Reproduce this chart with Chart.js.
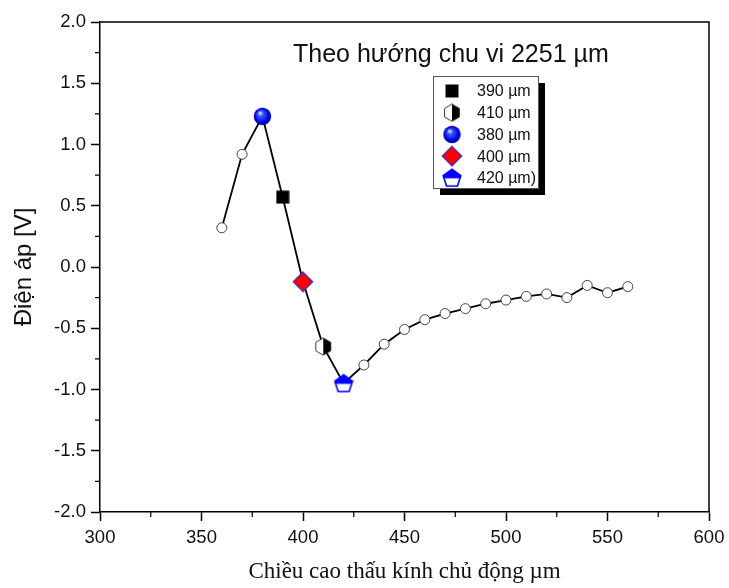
<!DOCTYPE html>
<html>
<head>
<meta charset="utf-8">
<script src="https://cdn.jsdelivr.net/npm/chart.js@4/dist/chart.umd.min.js"></script>
<style>
  html, body { margin: 0; padding: 0; background: #fff; }
  #wrap { width: 729px; height: 588px; }
</style>
</head>
<body>
<div id="wrap"><canvas id="myChart" width="729" height="588"></canvas></div>
<script>
// data
const heights = [360, 370, 380, 390, 400, 410, 420, 430, 440, 450, 460, 470, 480, 490, 500, 510, 520, 530, 540, 550, 560];
const voltages = [0.32, 0.92, 1.23, 0.57, -0.12, -0.65, -0.95, -0.80, -0.63, -0.51, -0.43, -0.38, -0.34, -0.30, -0.27, -0.24, -0.22, -0.25, -0.15, -0.21, -0.16];
const legendLabels = ["390 µm", "410 µm", "380 µm", "400 µm", "420 µm)"];
const legendHeights = [390, 410, 380, 400, 420];
const chartTitle = "Theo hướng chu vi 2251 µm";
const xTitle = "Chiều cao thấu kính chủ động µm";
const yTitle = "Điện áp [V]";

// which marker each highlighted height gets
const markerFor = { 380: "sphere", 390: "square", 400: "diamond", 410: "hexagon", 420: "pentagon" };

Chart.defaults.font.family = "'Liberation Sans', Arial, sans-serif";
Chart.defaults.color = "#111";

function makeCanvas(w, h, draw) {
  const c = document.createElement("canvas");
  c.width = w; c.height = h;
  draw(c.getContext("2d"), w, h);
  return c;
}

const markerImg = {
  sphere: makeCanvas(19, 19, (g) => {
    const grad = g.createRadialGradient(7, 6, 0.5, 9.5, 9.5, 9);
    grad.addColorStop(0, "#e0e8ff");
    grad.addColorStop(0.25, "#3a5cff");
    grad.addColorStop(0.75, "#0000e6");
    grad.addColorStop(1, "#00008a");
    g.fillStyle = grad;
    g.beginPath(); g.arc(9.5, 9.5, 8.7, 0, Math.PI * 2); g.fill();
  }),
  square: makeCanvas(14, 14, (g) => {
    g.fillStyle = "#000";
    g.fillRect(0.5, 0.5, 13, 13);
  }),
  diamond: makeCanvas(22, 22, (g) => {
    g.beginPath();
    g.moveTo(11, 1.5); g.lineTo(20.5, 11); g.lineTo(11, 20.5); g.lineTo(1.5, 11); g.closePath();
    g.fillStyle = "#ff0000"; g.fill();
    g.lineWidth = 1.6; g.strokeStyle = "#5a2a9a"; g.stroke();
  }),
  hexagon: makeCanvas(18, 19, (g) => {
    const cx = 9, cy = 9.5, r = 8.6;
    const path = () => {
      g.beginPath();
      for (let i = 0; i < 6; i++) {
        const a = -Math.PI / 2 + i * Math.PI / 3;
        const px = cx + r * Math.cos(a), py = cy + r * Math.sin(a);
        if (i === 0) g.moveTo(px, py); else g.lineTo(px, py);
      }
      g.closePath();
    };
    path(); g.fillStyle = "#fff"; g.fill();
    g.save(); g.beginPath(); g.rect(cx, 0, 18, 19); g.clip();
    path(); g.fillStyle = "#000"; g.fill(); g.restore();
    path(); g.lineWidth = 1; g.strokeStyle = "#333"; g.stroke();
  }),
  pentagon: makeCanvas(20, 20, (g) => {
    const cx = 10, cy = 10.8, r = 9.3;
    const path = () => {
      g.beginPath();
      for (let i = 0; i < 5; i++) {
        const a = -Math.PI / 2 + i * 2 * Math.PI / 5;
        const px = cx + r * Math.cos(a), py = cy + r * Math.sin(a);
        if (i === 0) g.moveTo(px, py); else g.lineTo(px, py);
      }
      g.closePath();
    };
    path(); g.fillStyle = "#fff"; g.fill();
    g.save(); g.beginPath(); g.rect(0, 0, 20, 10.5); g.clip();
    path(); g.fillStyle = "#0000ff"; g.fill(); g.restore();
    path(); g.lineWidth = 1.6; g.strokeStyle = "#0000ff"; g.stroke();
  }),
};

// frame, minor ticks, inner title and legend box
const decorations = {
  id: "decorations",
  afterDraw(chart) {
    const { ctx, chartArea: a, scales: { x, y } } = chart;
    ctx.save();
    ctx.strokeStyle = "#000";
    ctx.lineWidth = 1.5;
    ctx.beginPath();
    ctx.moveTo(a.left, a.top); ctx.lineTo(a.right, a.top); ctx.lineTo(a.right, a.bottom);
    ctx.stroke();

    ctx.lineWidth = 1.2;
    ctx.beginPath();
    for (let v = 325; v < 600; v += 50) {
      const px = x.getPixelForValue(v);
      ctx.moveTo(px, a.bottom); ctx.lineTo(px, a.bottom + 5);
    }
    for (let v = -1.75; v < 2; v += 0.5) {
      const py = y.getPixelForValue(v);
      ctx.moveTo(a.left, py); ctx.lineTo(a.left - 5, py);
    }
    ctx.stroke();

    ctx.fillStyle = "#111";
    ctx.font = "25px 'Liberation Sans', Arial, sans-serif";
    ctx.textBaseline = "alphabetic";
    ctx.textAlign = "left";
    ctx.fillText(chartTitle, 293, 62);

    // legend
    const bx = 433, by = 76, bw = 105, bh = 112;
    ctx.fillStyle = "#000";
    ctx.fillRect(bx + 7, by + 7, bw, bh);
    ctx.fillStyle = "#fff";
    ctx.fillRect(bx, by, bw, bh);
    ctx.strokeStyle = "#555";
    ctx.lineWidth = 1;
    ctx.strokeRect(bx + 0.5, by + 0.5, bw, bh);
    ctx.font = "16px 'Liberation Sans', Arial, sans-serif";
    ctx.textBaseline = "middle";
    ctx.fillStyle = "#111";
    legendLabels.forEach((label, i) => {
      const rowY = by + 15 + i * 21.7;
      const img = markerImg[markerFor[legendHeights[i]]];
      ctx.drawImage(img, 452 - img.width / 2, rowY - img.height / 2);
      ctx.fillText(label, 477, rowY + 1);
    });
    ctx.restore();
  },
};

new Chart("myChart", {
  type: "line",
  data: {
    datasets: [
      {
        data: heights.map((h, i) => ({ x: h, y: voltages[i] })),
        borderColor: "#000",
        borderWidth: 1.8,
        tension: 0,
        pointStyle: (c) => {
          const m = markerFor[heights[c.dataIndex]];
          return m ? markerImg[m] : "circle";
        },
        pointRadius: 5,
        pointBackgroundColor: "#fff",
        pointBorderColor: "#444",
        pointBorderWidth: 1,
      },
    ],
  },
  plugins: [decorations],
  options: {
    responsive: false,
    animation: false,
    events: [],
    layout: { padding: { top: 22, right: 20, left: 0, bottom: 0 } },
    plugins: {
      legend: { display: false },
      tooltip: { enabled: false },
    },
    scales: {
      x: {
        type: "linear",
        min: 300,
        max: 600,
        afterFit: (s) => { s.height = 76; s.paddingLeft = 0; s.paddingRight = 0; },
        ticks: { stepSize: 50, font: { size: 18.5 }, padding: 6, color: "#111" },
        grid: { drawOnChartArea: false, tickLength: 9, tickColor: "#000", tickWidth: 1.5 },
        border: { color: "#000", width: 1.5 },
        title: {
          display: true,
          text: xTitle,
          font: { family: "'Liberation Serif', 'Times New Roman', serif", size: 23 },
          padding: { top: 0, bottom: 2 },
          color: "#111",
        },
      },
      y: {
        min: -2,
        max: 2,
        afterFit: (s) => { s.width = 100; s.paddingTop = 0; s.paddingBottom = 0; },
        ticks: {
          stepSize: 0.5,
          font: { size: 18.5 },
          padding: 5,
          color: "#111",
          callback: (v) => v.toFixed(1),
        },
        grid: { drawOnChartArea: false, tickLength: 9, tickColor: "#000", tickWidth: 1.5 },
        border: { color: "#000", width: 1.5 },
        title: {
          display: true,
          text: yTitle,
          font: { size: 24 },
          padding: { top: 10, bottom: 0 },
          color: "#111",
        },
      },
    },
  },
});
</script>
</body>
</html>
